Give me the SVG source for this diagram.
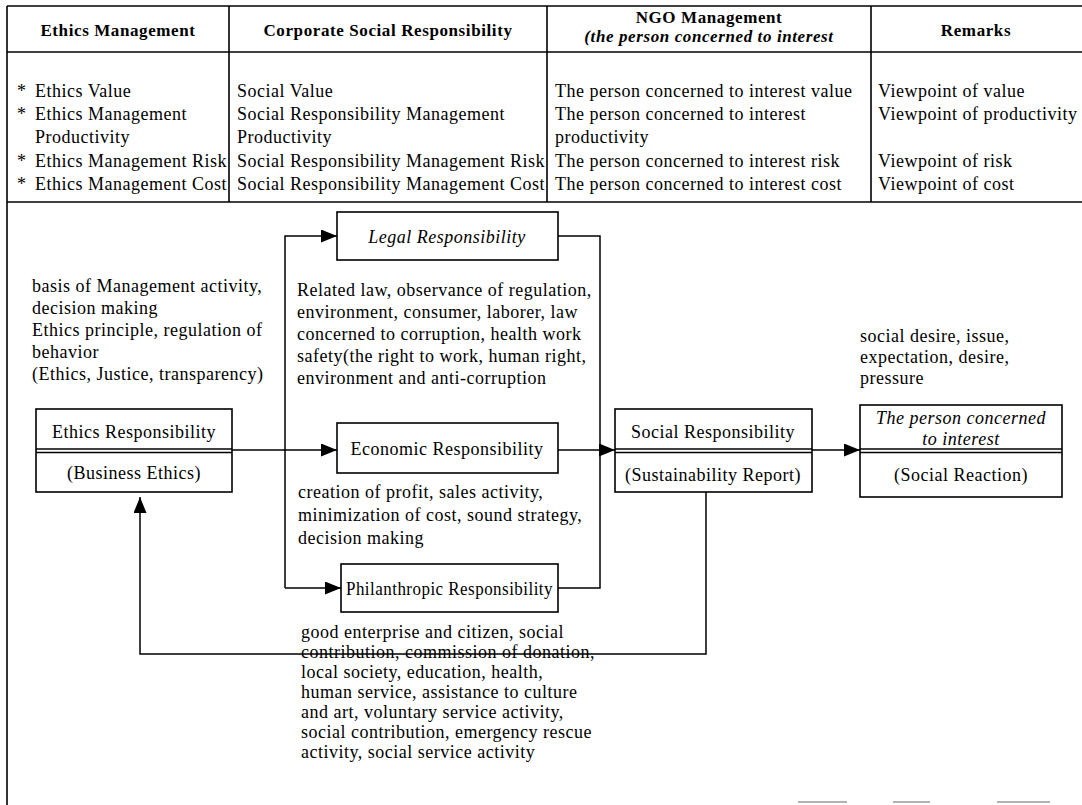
<svg xmlns="http://www.w3.org/2000/svg" width="1082" height="805" viewBox="0 0 1082 805">
<style>
.t{font-family:"Liberation Serif","Times New Roman",serif;font-size:18px;letter-spacing:0.5px;fill:#000}
.h{font-family:"Liberation Serif","Times New Roman",serif;font-size:17px;font-weight:bold;letter-spacing:0.6px;fill:#000}
.c{text-anchor:middle}
.i{font-style:italic}
.ln{stroke:#000;stroke-width:1.6;fill:none}
.box{stroke:#000;stroke-width:1.6;fill:#fff}
.con{stroke:#000;stroke-width:1.5;fill:none}
.fa{stroke:#999;stroke-width:1.5}
</style>
<defs>
<marker id="ah" markerWidth="16" markerHeight="13" refX="16" refY="6.5" orient="auto" markerUnits="userSpaceOnUse">
<path d="M0,0 L16,6.5 L0,13 z" fill="#000"/>
</marker>
</defs>
<rect width="1082" height="805" fill="#fff"/>

<g id="table">
<line class="ln" x1="7" y1="6" x2="1082" y2="6"/>
<line class="ln" x1="7" y1="52" x2="1082" y2="52"/>
<line class="ln" x1="7" y1="202" x2="1082" y2="202"/>
<line class="ln" x1="7" y1="6" x2="7" y2="805"/>
<line class="ln" x1="229" y1="6" x2="229" y2="202"/>
<line class="ln" x1="547" y1="6" x2="547" y2="202"/>
<line class="ln" x1="871" y1="6" x2="871" y2="202"/>
<text class="h c" x="118" y="36">Ethics Management</text>
<text class="h c" x="388" y="36">Corporate Social Responsibility</text>
<text class="h c" x="709" y="23">NGO Management</text>
<text class="h c i" x="709" y="42">(the person concerned to interest</text>
<text class="h c" x="976" y="36">Remarks</text>
<text class="t" x="17" y="97">*</text><text class="t" x="35" y="97">Ethics Value</text>
<text class="t" x="17" y="120">*</text><text class="t" x="35" y="120">Ethics Management</text>
<text class="t" x="35" y="143">Productivity</text>
<text class="t" x="17" y="167">*</text><text class="t" x="35" y="167">Ethics Management Risk</text>
<text class="t" x="17" y="190">*</text><text class="t" x="35" y="190">Ethics Management Cost</text>
<text class="t" x="237" y="97">Social Value</text>
<text class="t" x="237" y="120">Social Responsibility Management</text>
<text class="t" x="237" y="143">Productivity</text>
<text class="t" x="237" y="167">Social Responsibility Management Risk</text>
<text class="t" x="237" y="190">Social Responsibility Management Cost</text>
<text class="t" x="555" y="97">The person concerned to interest value</text>
<text class="t" x="555" y="120">The person concerned to interest</text>
<text class="t" x="555" y="143">productivity</text>
<text class="t" x="555" y="167">The person concerned to interest risk</text>
<text class="t" x="555" y="190">The person concerned to interest cost</text>
<text class="t" x="878" y="97">Viewpoint of value</text>
<text class="t" x="878" y="120">Viewpoint of productivity</text>
<text class="t" x="878" y="167">Viewpoint of risk</text>
<text class="t" x="878" y="190">Viewpoint of cost</text>
</g>

<g id="connectors">
<polyline class="con" points="285,588 285,236 337,236" marker-end="url(#ah)"/>
<line class="con" x1="285" y1="588" x2="341" y2="588" marker-end="url(#ah)"/>
<line class="con" x1="232" y1="450" x2="337" y2="450" marker-end="url(#ah)"/>
<polyline class="con" points="558,236 600,236 600,588 558,588"/>
<line class="con" x1="558" y1="450" x2="615" y2="450" marker-end="url(#ah)"/>
<line class="con" x1="812" y1="450" x2="860" y2="450" marker-end="url(#ah)"/>
<polyline class="con" points="706,492 706,654 140,654 140,497" marker-end="url(#ah)"/>
</g>

<g id="legal">
<rect class="box" x="337" y="212" width="221" height="48"/>
<text class="t c i" x="447" y="243">Legal Responsibility</text>
</g>
<g id="economic">
<rect class="box" x="337" y="423" width="221" height="50"/>
<text class="t c" x="447" y="455">Economic Responsibility</text>
</g>
<g id="philanthropic">
<rect class="box" x="341" y="564" width="217" height="48"/>
<text class="t" x="346" y="595" textLength="207" lengthAdjust="spacingAndGlyphs">Philanthropic Responsibility</text>
</g>
<g id="ethics">
<rect class="box" x="36" y="409" width="196" height="83"/>
<line class="ln" x1="36" y1="449" x2="232" y2="449" stroke-width="1.2"/>
<line class="ln" x1="36" y1="452.5" x2="232" y2="452.5" stroke-width="1.2"/>
<text class="t c" x="134" y="438">Ethics Responsibility</text>
<text class="t c" x="134" y="479">(Business Ethics)</text>
</g>
<g id="social">
<rect class="box" x="615" y="409" width="197" height="83"/>
<line class="ln" x1="615" y1="449" x2="812" y2="449" stroke-width="1.2"/>
<line class="ln" x1="615" y1="452.5" x2="812" y2="452.5" stroke-width="1.2"/>
<text class="t c" x="713" y="438">Social Responsibility</text>
<text class="t c" x="713" y="481">(Sustainability Report)</text>
</g>
<g id="stakeholder">
<rect class="box" x="860" y="405" width="202" height="92"/>
<line class="ln" x1="860" y1="449" x2="1062" y2="449" stroke-width="1.2"/>
<line class="ln" x1="860" y1="452.5" x2="1062" y2="452.5" stroke-width="1.2"/>
<text class="t c i" x="961" y="424">The person concerned</text>
<text class="t c i" x="961" y="445">to interest</text>
<text class="t c" x="961" y="481">(Social Reaction)</text>
</g>

<g id="notes">
<text class="t" x="32" y="292">basis of Management activity,</text>
<text class="t" x="32" y="314">decision making</text>
<text class="t" x="32" y="336">Ethics principle, regulation of</text>
<text class="t" x="32" y="358">behavior</text>
<text class="t" x="32" y="380">(Ethics, Justice, transparency)</text>
<text class="t" x="297" y="296">Related law, observance of regulation,</text>
<text class="t" x="297" y="318">environment, consumer, laborer, law</text>
<text class="t" x="297" y="340">concerned to corruption, health work</text>
<text class="t" x="297" y="362">safety(the right to work, human right,</text>
<text class="t" x="297" y="384">environment and anti-corruption</text>
<text class="t" x="298" y="498">creation of profit, sales activity,</text>
<text class="t" x="298" y="521">minimization of cost, sound strategy,</text>
<text class="t" x="298" y="544">decision making</text>
<text class="t" x="301" y="638">good enterprise and citizen, social</text>
<text class="t" x="301" y="658">contribution, commission of donation,</text>
<text class="t" x="301" y="678">local society, education, health,</text>
<text class="t" x="301" y="698">human service, assistance to culture</text>
<text class="t" x="301" y="718">and art, voluntary service activity,</text>
<text class="t" x="301" y="738">social contribution, emergency rescue</text>
<text class="t" x="301" y="758">activity, social service activity</text>
<text class="t" x="860" y="342">social desire, issue,</text>
<text class="t" x="860" y="363">expectation, desire,</text>
<text class="t" x="860" y="384">pressure</text>
</g>

<g id="marks">
<line class="fa" x1="798" y1="802" x2="847" y2="802"/>
<line class="fa" x1="893" y1="802" x2="930" y2="802"/>
<line class="fa" x1="997" y1="802" x2="1050" y2="802"/>
</g>
</svg>
